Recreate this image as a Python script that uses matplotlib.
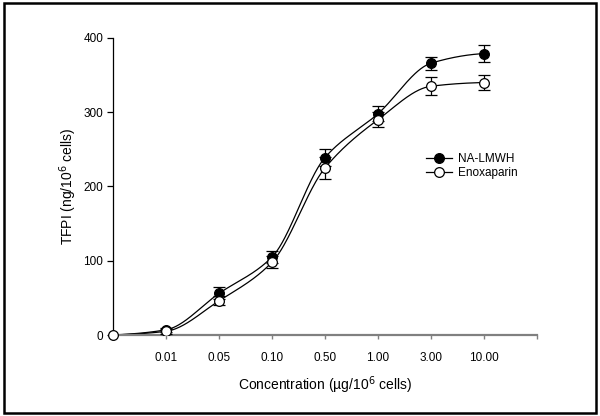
import numpy as np
import matplotlib
matplotlib.use("Agg")
import matplotlib.pyplot as plt
from matplotlib.patches import Rectangle

plt.rcParams['font.family'] = ['Liberation Sans', 'DejaVu Sans']

categories = ["0", "0.01", "0.05", "0.10", "0.50", "1.00", "3.00", "10.00"]
na_lmwh = [0, 7, 56, 105, 239, 298, 366, 379]
na_err = [0, 3, 8, 8, 12, 10, 9, 12]
enox = [0, 5, 46, 98, 225, 290, 335, 340]
enox_err = [0, 3, 6, 8, 15, 10, 12, 10]


def pchip(x, y, xs):
    x = np.asarray(x, float); y = np.asarray(y, float)
    h = np.diff(x); d = np.diff(y) / h
    n = len(x); m = np.zeros(n)
    for k in range(1, n - 1):
        if d[k - 1] * d[k] > 0:
            w1 = 2 * h[k] + h[k - 1]; w2 = h[k] + 2 * h[k - 1]
            m[k] = (w1 + w2) / (w1 / d[k - 1] + w2 / d[k])
    m[0] = d[0] * 0.5
    m[-1] = d[-1] * 0.3
    out = np.empty_like(xs)
    for i, xv in enumerate(xs):
        k = min(max(np.searchsorted(x, xv) - 1, 0), n - 2)
        t = (xv - x[k]) / h[k]
        h00 = 2 * t**3 - 3 * t**2 + 1; h10 = t**3 - 2 * t**2 + t
        h01 = -2 * t**3 + 3 * t**2; h11 = t**3 - t**2
        out[i] = h00 * y[k] + h10 * h[k] * m[k] + h01 * y[k + 1] + h11 * h[k] * m[k + 1]
    return out


fig = plt.figure(figsize=(6.0, 4.16), dpi=100)
ax = fig.add_axes([0.1883, 0.1947, 0.7067, 0.714])

xpos = np.arange(len(categories))
xs = np.linspace(0, len(categories) - 1, 400)
for vals, errs, fc, lab in [(na_lmwh, na_err, 'black', 'NA-LMWH'),
                           (enox, enox_err, 'white', 'Enoxaparin')]:
    ys = np.clip(pchip(xpos, vals, xs), 0, None)
    ax.plot(xs, ys, color='black', lw=0.9, zorder=2)
    ax.errorbar(xpos[1:], vals[1:], yerr=errs[1:], fmt='none', ecolor='black',
                elinewidth=0.9, capsize=4, capthick=0.9, zorder=3)
    ax.plot(xpos[1:], vals[1:], 'o', ms=7, mfc=fc, mec='black', mew=0.9, zorder=4)
    ax.plot([], [], '-o', color='black', lw=0.9, ms=7, mfc=fc, mec='black', mew=0.9, label=lab)

ax.plot([0], [0], 'o', ms=7, mfc='white', mec='black', mew=0.9, zorder=5, clip_on=False)

ax.set_xlim(0, 8)
ax.set_ylim(0, 400)
ax.set_xticks(list(range(1, 9)))
ax.set_xticklabels(categories[1:] + [""])
ax.set_yticks([0, 100, 200, 300, 400])
ax.spines['top'].set_visible(False)
ax.spines['right'].set_visible(False)
ax.spines['bottom'].set_color('#808080')
ax.spines['bottom'].set_linewidth(1.6)
ax.spines['left'].set_linewidth(0.9)
ax.tick_params(axis='x', colors='#808080', labelcolor='black', length=3, width=1, labelsize=8.5, pad=9)
ax.tick_params(axis='y', length=4, width=0.9, labelsize=8.5, pad=3)

ax.set_xlabel('Concentration (\u00b5g/10$^6$ cells)', fontsize=10, labelpad=8)
ax.set_ylabel('TFPI (ng/10$^6$ cells)', fontsize=10, labelpad=3)

ax.legend(loc='upper left', bbox_to_anchor=(0.724, 0.633), frameon=False, fontsize=8.5,
          handlelength=2.2, handletextpad=0.5, labelspacing=0.15, borderpad=0)

fig.patches.append(Rectangle((0.006, 0.008), 0.988, 0.985, transform=fig.transFigure,
                             fill=False, edgecolor='black', lw=1.8))

fig.savefig('out.png', dpi=100)
